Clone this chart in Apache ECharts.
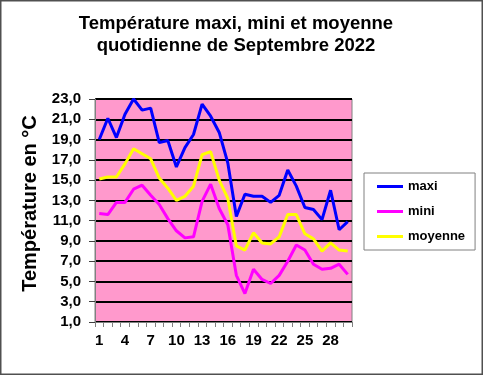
<!DOCTYPE html>
<html>
<head>
<meta charset="utf-8">
<script src="https://cdn.jsdelivr.net/npm/echarts@6/dist/echarts.min.js"></script>
<style>
html,body{margin:0;padding:0;background:#fff;}
#c{width:483px;height:375px;}
</style>
</head>
<body>
<div id="c"></div>
<script>
const days = Array.from({length: 30}, (_, i) => String(i + 1));
const maxi = [19.0, 21.1, 19.2, 21.5, 23.0, 21.9, 22.1, 18.7, 18.9, 16.3, 18.2, 19.5, 22.5, 21.3, 19.7, 16.7, 11.4, 13.6, 13.4, 13.4, 12.8, 13.5, 16.0, 14.4, 12.3, 12.1, 11.1, 14.0, 10.1, 10.9];
const mini = [11.7, 11.6, 12.8, 12.8, 14.1, 14.5, 13.5, 12.6, 11.2, 10.0, 9.3, 9.4, 12.9, 14.6, 12.2, 10.6, 5.6, 3.8, 6.2, 5.2, 4.8, 5.6, 7.0, 8.6, 8.1, 6.7, 6.2, 6.3, 6.7, 5.7];
const moyenne = [15.1, 15.3, 15.3, 16.6, 18.1, 17.6, 17.1, 15.2, 14.2, 13.0, 13.4, 14.4, 17.5, 17.8, 15.0, 13.2, 8.5, 8.1, 9.8, 8.8, 8.7, 9.4, 11.6, 11.6, 9.7, 9.2, 8.0, 8.8, 8.1, 8.0];
const seriesNames = ['maxi', 'mini', 'moyenne'];
const titleText = 'Température maxi, mini et moyenne\nquotidienne de Septembre 2022';
const yTitle = 'Température en °C';

const chart = echarts.init(document.getElementById('c'), null, {renderer: 'canvas'});
const font = 'Liberation Sans, Arial, sans-serif';
function mk(name, data, color) {
  return {
    name: name, type: 'line', data: data, symbol: 'none', smooth: false,
    lineStyle: {color: color, width: 3}, itemStyle: {color: color},
    emphasis: {disabled: true}, animation: false
  };
}
chart.setOption({
  animation: false,
  backgroundColor: '#ffffff',
  textStyle: {fontFamily: font},
  title: {
    text: titleText, left: 236, top: 13, textAlign: 'center', padding: 0,
    textStyle: {fontFamily: font, fontSize: 18.5, fontWeight: 'bold', color: '#000', lineHeight: 22}
  },
  graphic: [{
    type: 'rect', shape: {x: 0.75, y: 0.75, width: 481.5, height: 373.5},
    style: {fill: 'none', stroke: '#505050', lineWidth: 1.5}, silent: true, z: 100
  }],
  legend: {
    orient: 'vertical', left: 364, top: 173,
    data: seriesNames,
    icon: 'rect',
    itemWidth: 26, itemHeight: 3, itemGap: 10,
    padding: [6, 10, 6, 13],
    borderColor: '#808080', borderWidth: 1, backgroundColor: '#fff',
    textStyle: {fontFamily: font, fontSize: 13, fontWeight: 'bold', color: '#000', lineHeight: 15}
  },
  grid: {
    left: 95, right: 131, top: 99, bottom: 53,
    show: true, backgroundColor: '#FF99CC', borderColor: '#808080', borderWidth: 1
  },
  xAxis: {
    type: 'category', data: days, boundaryGap: true,
    axisLine: {lineStyle: {color: '#808080', width: 1}},
    axisTick: {show: true, interval: 0, length: 5, lineStyle: {color: '#808080'}},
    axisLabel: {interval: 2, margin: 11, color: '#000', fontFamily: font, fontSize: 15, fontWeight: 'bold'},
    splitLine: {show: false}
  },
  yAxis: {
    type: 'value', min: 1, max: 23, interval: 2,
    name: yTitle, nameLocation: 'middle', nameGap: 55, nameRotate: 90,
    nameTextStyle: {fontFamily: font, fontSize: 20, fontWeight: 'bold', color: '#000', padding: [0, 0, 0, 14]},
    axisLine: {show: true, lineStyle: {color: '#808080', width: 1}},
    axisTick: {show: true, length: 6, lineStyle: {color: '#404040'}},
    axisLabel: {margin: 14, color: '#000', fontFamily: font, fontSize: 15, fontWeight: 'bold',
      formatter: v => v.toFixed(1).replace('.', ',')},
    splitLine: {show: true, lineStyle: {color: '#000', width: 2}}
  },
  series: [mk(seriesNames[0], maxi, '#0000FF'), mk(seriesNames[1], mini, '#FF00FF'), mk(seriesNames[2], moyenne, '#FFFF00')]
});
</script>
</body>
</html>
